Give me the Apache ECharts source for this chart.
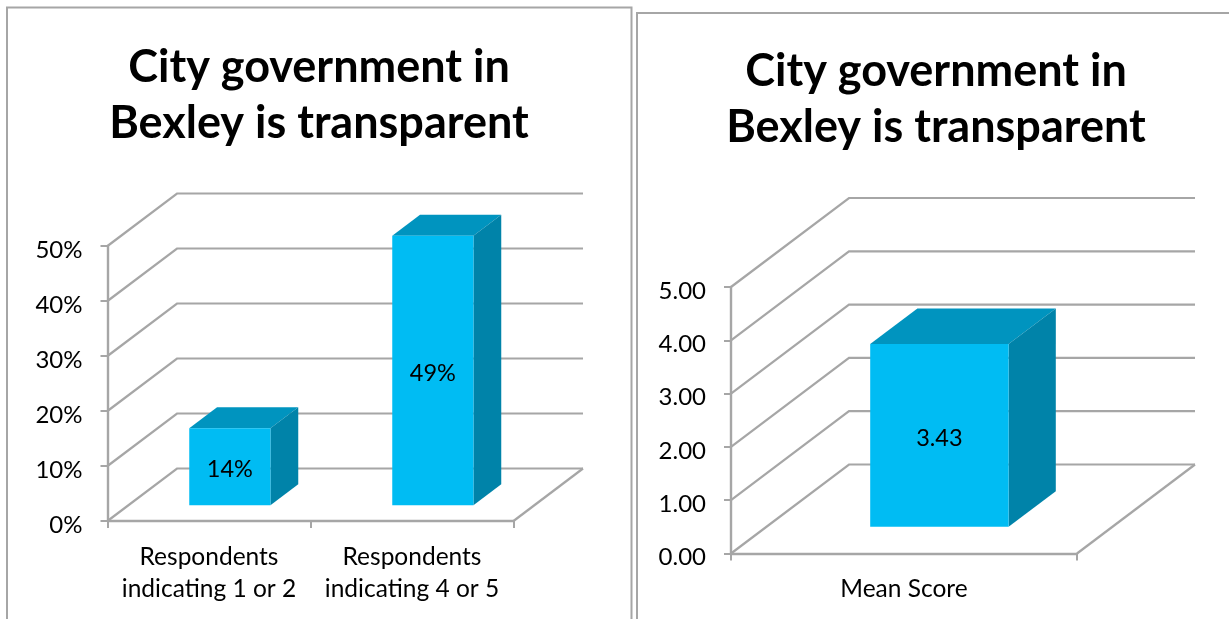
<!DOCTYPE html>
<html>
<head>
<meta charset="utf-8">
<title>City government in Bexley is transparent</title>
<style>
  html, body { margin: 0; padding: 0; background: #fff; }
  #main { width: 1229px; height: 619px; }
</style>
<script src="https://cdn.jsdelivr.net/npm/echarts@6/dist/echarts.min.js"></script>
</head>
<body>
<div id="main"></div>
<script>
var titleText = 'City government in\nBexley is transparent';

// left chart
var pctCategories = ['Respondents\nindicating 1 or 2', 'Respondents\nindicating 4 or 5'];
var pctValues = [14, 49];
var pctTicks = [0, 10, 20, 30, 40, 50];

// right chart
var meanCategories = ['Mean Score'];
var meanValues = [3.43];
var meanTicks = [0, 1, 2, 3, 4, 5];

var LINE = '#a6a6a6';
var FONT = 'Lato';

// the walls: a line up the depth from each tick, then along the back
function renderWall(depth) {
    return function (params, api) {
        var cs = params.coordSys;
        var y = api.coord([0, api.value(1)])[1];
        var style = { stroke: LINE, lineWidth: 2.2, fill: null };
        var kids = [{
            type: 'polyline',
            shape: { points: [[cs.x, y], [cs.x + depth[0], y - depth[1]], [cs.x + cs.width + depth[0], y - depth[1]]] },
            style: style
        }];
        if (api.value(1) === 0) {
            kids.push({
                type: 'line',
                shape: { x1: cs.x + cs.width, y1: y, x2: cs.x + cs.width + depth[0], y2: y - depth[1] },
                style: style
            });
        }
        return { type: 'group', children: kids };
    };
}

// the fake 3d bar, sits between 30% and 70% of the floor depth
function renderBar(depth, fmt) {
    return function (params, api) {
        var top = api.coord([api.value(0), api.value(1)]);
        var base = api.coord([api.value(0), 0]);
        var w = api.size([1, 0])[0] * 0.4;
        var sx = depth[0] * 0.3, sy = depth[1] * 0.3;
        var bx = depth[0] * 0.4, by = depth[1] * 0.4;
        var x1 = top[0] - w / 2 + sx, x2 = top[0] + w / 2 + sx;
        var yt = top[1] - sy, yb = base[1] - sy;
        return {
            type: 'group',
            children: [
                { type: 'polygon', shape: { points: [[x1, yt], [x2, yt], [x2 + bx, yt - by], [x1 + bx, yt - by]] }, style: { fill: '#0094bf' } },
                { type: 'polygon', shape: { points: [[x2, yt], [x2 + bx, yt - by], [x2 + bx, yb - by], [x2, yb]] }, style: { fill: '#0083a9' } },
                { type: 'rect', shape: { x: x1, y: yt, width: x2 - x1, height: yb - yt }, style: { fill: '#00bcf3' } },
                {
                    type: 'text',
                    style: {
                        x: (x1 + x2) / 2, y: (yt + yb) / 2 + 3,
                        text: fmt(api.value(1)),
                        align: 'center', verticalAlign: 'middle',
                        fill: '#000', font: '23.5px ' + FONT
                    }
                }
            ]
        };
    };
}

function makeAxes(idx, categories, ticks, fmt) {
    return {
        x: {
            type: 'category',
            gridIndex: idx,
            data: categories,
            axisLine: { lineStyle: { color: LINE, width: 2.4 } },
            axisTick: { show: true, length: 7, lineStyle: { color: LINE, width: 2 } },
            axisLabel: { color: '#000', fontFamily: FONT, fontSize: 24.5, lineHeight: 32, margin: 20, interval: 0 },
            splitLine: { show: false }
        },
        y: {
            type: 'value',
            gridIndex: idx,
            min: ticks[0],
            max: ticks[ticks.length - 1],
            interval: ticks[1] - ticks[0],
            axisLine: { show: true, lineStyle: { color: LINE, width: 2.4 } },
            axisTick: { show: true, length: 7, lineStyle: { color: LINE, width: 2 } },
            // labels sit a little under their ticks in the original
            axisLabel: { color: '#000', fontFamily: FONT, fontSize: 24, margin: 25, verticalAlign: 'top', lineHeight: 8, formatter: fmt },
            splitLine: { show: false }
        }
    };
}

function pctFmt(v) { return v + '%'; }
function meanFmt(v) { return Number(v).toFixed(2); }

var leftAxes = makeAxes(0, pctCategories, pctTicks, pctFmt);
var rightAxes = makeAxes(1, meanCategories, meanTicks, meanFmt);
var leftDepth = [69.5, 52.5];
var rightDepth = [118, 89];

var myChart = echarts.init(document.getElementById('main'), null, { renderer: 'canvas' });
myChart.setOption({
    backgroundColor: '#fff',
    animation: false,
    title: [
        {
            text: titleText, left: 314, top: 34, textAlign: 'center',
            textStyle: { color: '#000', fontFamily: FONT, fontWeight: 'bold', fontSize: 45, lineHeight: 56 }
        },
        {
            text: titleText, left: 931, top: 38, textAlign: 'center',
            textStyle: { color: '#000', fontFamily: FONT, fontWeight: 'bold', fontSize: 45, lineHeight: 56 }
        }
    ],
    grid: [
        { left: 107.5, top: 246, width: 406, height: 275 },
        { left: 731, top: 287, width: 346, height: 266.5 }
    ],
    xAxis: [leftAxes.x, rightAxes.x],
    yAxis: [leftAxes.y, rightAxes.y],
    series: [
        {
            type: 'custom', xAxisIndex: 0, yAxisIndex: 0, z: 1,
            renderItem: renderWall(leftDepth),
            data: pctTicks.map(function (t) { return [0, t]; })
        },
        {
            type: 'custom', xAxisIndex: 0, yAxisIndex: 0, z: 3,
            renderItem: renderBar(leftDepth, pctFmt),
            data: pctValues.map(function (v, i) { return [i, v]; })
        },
        {
            type: 'custom', xAxisIndex: 1, yAxisIndex: 1, z: 1,
            renderItem: renderWall(rightDepth),
            data: meanTicks.map(function (t) { return [0, t]; })
        },
        {
            type: 'custom', xAxisIndex: 1, yAxisIndex: 1, z: 3,
            renderItem: renderBar(rightDepth, meanFmt),
            data: meanValues.map(function (v, i) { return [i, v]; })
        }
    ],
    // panel frames
    graphic: [
        { type: 'polyline', silent: true, shape: { points: [[7, 619], [7, 7.5], [631.5, 7.5], [631.5, 619]] }, style: { stroke: LINE, lineWidth: 2, fill: null } },
        { type: 'polyline', silent: true, shape: { points: [[637, 619], [637, 13], [1229, 13]] }, style: { stroke: LINE, lineWidth: 2, fill: null } }
    ]
});
</script>
</body>
</html>
